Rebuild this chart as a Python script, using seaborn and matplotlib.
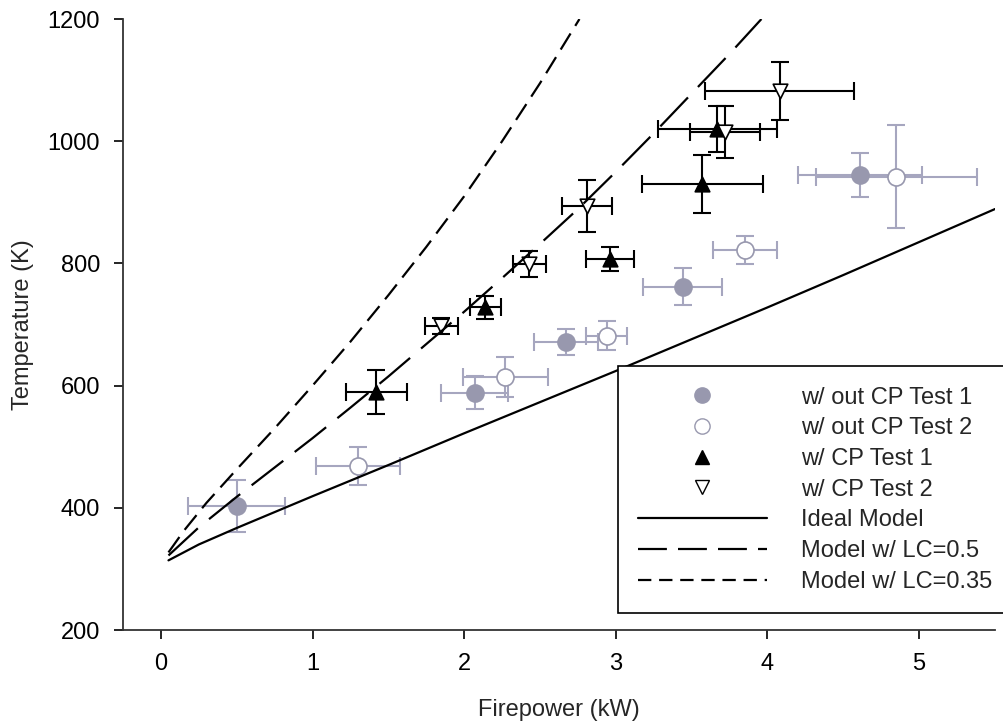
import numpy as np
import pandas as pd
import matplotlib
matplotlib.use("Agg")
import matplotlib.pyplot as plt
from matplotlib.lines import Line2D
import seaborn as sns

wo_cp1_x = [0.50, 2.07, 2.67, 3.44, 4.61]
wo_cp1_T = [403, 588, 671, 762, 944]
wo_cp1_xerr = [0.32, 0.22, 0.21, 0.26, 0.41]
wo_cp1_Terr = [43, 27, 21, 30, 36]

wo_cp2_x = [1.30, 2.27, 2.94, 3.85, 4.85]
wo_cp2_T = [468, 614, 682, 822, 942]
wo_cp2_xerr = [0.275, 0.28, 0.135, 0.21, 0.53]
wo_cp2_Terr = [31, 33, 24, 23, 84]

cp1_x = [1.42, 2.14, 2.96, 3.57, 3.67]
cp1_T = [590, 728, 807, 930, 1020]
cp1_xerr = [0.20, 0.10, 0.16, 0.40, 0.39]
cp1_Terr = [36, 19, 20, 47, 37]

cp2_x = [1.85, 2.43, 2.81, 3.72, 4.08]
cp2_T = [698, 799, 894, 1015, 1082]
cp2_xerr = [0.11, 0.11, 0.165, 0.23, 0.49]
cp2_Terr = [13, 21, 42, 42, 47]

# --- Courbes des modèles
ideal_x = [0.05, 0.25, 0.5, 0.75, 1.0, 1.5, 2.0, 2.5, 3.0, 3.5, 4.0, 4.5, 5.0, 5.5]
ideal_T = [314, 340, 367, 393, 419, 470, 522, 573, 624, 676, 728, 781, 835, 889]

lc05_x = [0.05, 0.25, 0.5, 0.75, 1.0, 1.25, 1.5, 1.75, 2.0, 2.25, 2.5, 2.75, 3.0, 3.25, 3.5, 3.75, 3.96]
lc05_T = [322, 368, 418, 466, 514, 564, 615, 668, 721, 776, 832, 889, 950, 1013, 1078, 1143, 1200]

lc035_x = [0.05, 0.15, 0.3, 0.5, 0.75, 1.0, 1.25, 1.5, 1.75, 2.0, 2.25, 2.5, 2.76]
lc035_T = [327, 362, 408, 463, 530, 600, 672, 748, 827, 910, 1000, 1095, 1200]

labels = ["w/ out CP Test 1", "w/ out CP Test 2", "w/ CP Test 1", "w/ CP Test 2",
          "Ideal Model", "Model w/ LC=0.5", "Model w/ LC=0.35"]

GRIS = "#9898ae"
GRIS_BARRE = "#a6a6bf"
TIRET_LONG = (0, (18, 6.5))
TIRET_COURT = (0, (8.5, 4))

sns.set_style("ticks")
plt.rcParams["font.family"] = ["Liberation Sans", "DejaVu Sans"]
plt.rcParams["font.size"] = 17

fig = plt.figure(figsize=(10.04, 7.21), dpi=100)
ax = fig.add_axes([0.1225, 0.1262, 0.8685, 0.8474])

series = [
    (wo_cp1_x, wo_cp1_T, wo_cp1_xerr, wo_cp1_Terr, "o", GRIS, GRIS, GRIS_BARRE, 150),
    (wo_cp2_x, wo_cp2_T, wo_cp2_xerr, wo_cp2_Terr, "o", "white", GRIS, GRIS_BARRE, 150),
    (cp1_x, cp1_T, cp1_xerr, cp1_Terr, "^", "black", "black", "black", 110),
    (cp2_x, cp2_T, cp2_xerr, cp2_Terr, "v", "white", "black", "black", 110),
]

for x, T, xe, Te, mk, fc, ec, bc, s in series:
    ax.errorbar(x, T, xerr=xe, yerr=Te, fmt="none", ecolor=bc,
                elinewidth=1.5, capsize=6.5, capthick=1.5, zorder=2)
    df = pd.DataFrame({"x": x, "T": T})
    sns.scatterplot(data=df, x="x", y="T", marker=mk, s=s, color=fc,
                    edgecolor=ec, linewidth=1.2, ax=ax, zorder=3)

# Modèles
sns.lineplot(x=ideal_x, y=ideal_T, color="black", lw=1.6, ax=ax, zorder=4)
sns.lineplot(x=lc05_x, y=lc05_T, color="black", lw=1.6, linestyle=TIRET_LONG, ax=ax, zorder=4)
sns.lineplot(x=lc035_x, y=lc035_T, color="black", lw=1.6, linestyle=TIRET_COURT, ax=ax, zorder=4)

ax.set_xlim(-0.25, 5.5)
ax.set_ylim(200, 1200)
ax.set_xticks([0, 1, 2, 3, 4, 5])
ax.set_yticks([200, 400, 600, 800, 1000, 1200])
ax.tick_params(direction="out", length=6.5, width=1.2, pad=10, labelsize=17, colors="black")
for side in ["left", "bottom"]:
    ax.spines[side].set_color("#333333")
    ax.spines[side].set_linewidth(1.3)
sns.despine(ax=ax)
ax.set_xlabel("Firepower (kW)", fontsize=17, labelpad=17)
ax.set_ylabel("Temperature (K)", fontsize=17, labelpad=10)

handles = [
    Line2D([], [], ls="none", marker="o", ms=11, mfc=GRIS, mec=GRIS),
    Line2D([], [], ls="none", marker="o", ms=11, mfc="white", mec=GRIS),
    Line2D([], [], ls="none", marker="^", ms=10, mfc="black", mec="black"),
    Line2D([], [], ls="none", marker="v", ms=10, mfc="white", mec="black"),
    Line2D([], [], color="black", lw=1.6),
    Line2D([], [], color="black", lw=1.6, ls=(0, (13, 5))),
    Line2D([], [], color="black", lw=1.6, ls=(0, (6, 3.5))),
]
leg = fig.legend(handles, labels, loc="lower left", bbox_to_anchor=(0.6155, 0.1498),
                 frameon=True, fancybox=False, edgecolor="black", framealpha=1,
                 handlelength=5.45, handletextpad=1.45, labelspacing=0.37, fontsize=17,
                 borderpad=0.85, borderaxespad=0)
leg.get_frame().set_linewidth(1.2)

fig.savefig("out.png", dpi=100)
